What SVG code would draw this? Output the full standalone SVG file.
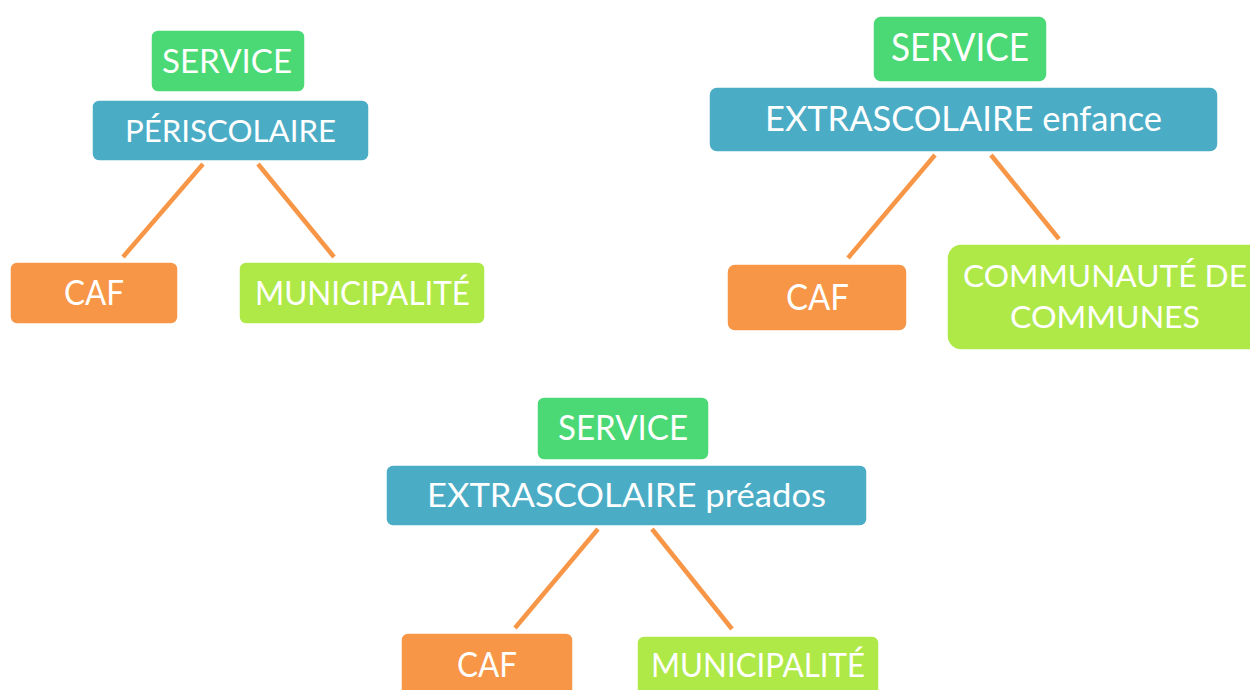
<svg xmlns="http://www.w3.org/2000/svg" width="1250" height="690" viewBox="0 0 1250 690">
<style>
  .box { stroke: #ffffff; stroke-width: 1.5; }
  .svc { fill: #4ad974; }
  .blue { fill: #4bacc6; }
  .orange { fill: #f79646; }
  .lime { fill: #afe948; }
  text { font-family: Lato, "Open Sans", "Liberation Sans", sans-serif; fill: #ffffff; text-anchor: middle; }
  .conn line { stroke: #f79646; stroke-width: 4.5; }
</style>
<rect width="1250" height="690" fill="#ffffff"/>
<g class="conn" id="connectors">
  <line x1="203" y1="164" x2="123" y2="257"/>
  <line x1="258" y1="164" x2="334" y2="257"/>
  <line x1="935" y1="155" x2="848" y2="258"/>
  <line x1="991" y1="155" x2="1059" y2="239"/>
  <line x1="598" y1="529" x2="515" y2="628"/>
  <line x1="652" y1="529" x2="732" y2="629"/>
</g>
<g id="g1-service"><rect class="box svc" x="151" y="30" width="154" height="62" rx="7"/><text x="227" y="73" font-size="33" textLength="130" lengthAdjust="spacingAndGlyphs">SERVICE</text></g>
<g id="g1-periscolaire"><rect class="box blue" x="92" y="100" width="277" height="61" rx="7"/><text x="230.5" y="142" font-size="31" textLength="211" lengthAdjust="spacingAndGlyphs">PÉRISCOLAIRE</text></g>
<g id="g1-caf"><rect class="box orange" x="10" y="262" width="168" height="62" rx="7"/><text x="94" y="305" font-size="34" textLength="60" lengthAdjust="spacingAndGlyphs">CAF</text></g>
<g id="g1-municipalite"><rect class="box lime" x="239" y="262" width="246" height="62" rx="7"/><text x="362.5" y="305" font-size="32" textLength="215" lengthAdjust="spacingAndGlyphs">MUNICIPALITÉ</text></g>

<g id="g2-service"><rect class="box svc" x="873" y="16" width="174" height="66" rx="8"/><text x="960" y="61" font-size="38" textLength="138" lengthAdjust="spacingAndGlyphs">SERVICE</text></g>
<g id="g2-extrascolaire"><rect class="box blue" x="709" y="87" width="509" height="65" rx="8"/><text x="963.5" y="131" font-size="34" textLength="397" lengthAdjust="spacingAndGlyphs">EXTRASCOLAIRE enfance</text></g>
<g id="g2-caf"><rect class="box orange" x="727" y="264" width="180" height="67" rx="8"/><text x="817.5" y="310" font-size="37" textLength="63" lengthAdjust="spacingAndGlyphs">CAF</text></g>
<g id="g2-communaute"><rect class="box lime" x="947" y="244" width="320" height="106" rx="14"/><text x="1105" y="287" font-size="31" textLength="284" lengthAdjust="spacingAndGlyphs">COMMUNAUTÉ DE</text><text x="1105" y="328" font-size="31" textLength="190" lengthAdjust="spacingAndGlyphs">COMMUNES</text></g>

<g id="g3-service"><rect class="box svc" x="537" y="397" width="172" height="63" rx="7"/><text x="623" y="440" font-size="34" textLength="130" lengthAdjust="spacingAndGlyphs">SERVICE</text></g>
<g id="g3-extrascolaire"><rect class="box blue" x="386" y="465" width="481" height="61" rx="7"/><text x="626.5" y="507" font-size="33" textLength="399" lengthAdjust="spacingAndGlyphs">EXTRASCOLAIRE préados</text></g>
<g id="g3-caf"><rect class="box orange" x="401" y="633" width="172" height="70" rx="7"/><text x="487" y="677" font-size="35" textLength="60" lengthAdjust="spacingAndGlyphs">CAF</text></g>
<g id="g3-municipalite"><rect class="box lime" x="637" y="636" width="242" height="70" rx="7"/><text x="758" y="677" font-size="32" textLength="214" lengthAdjust="spacingAndGlyphs">MUNICIPALITÉ</text></g>
</svg>
